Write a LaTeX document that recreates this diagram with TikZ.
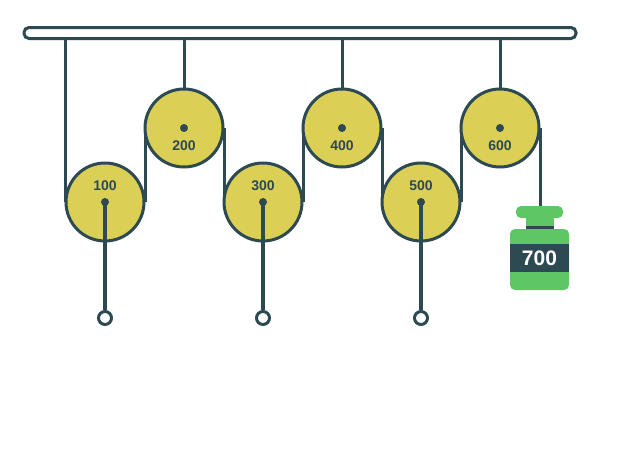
\documentclass[tikz,border=0pt]{standalone}
\usepackage{fontspec}
\setmainfont{Liberation Sans}
\begin{document}
\definecolor{dk}{HTML}{2D4A53}
\definecolor{yl}{HTML}{DCCF55}
\definecolor{gr}{HTML}{5EC764}
\begin{tikzpicture}[x=1pt,y=-1pt,
  rope/.style={draw=dk,line width=3pt},
  rod/.style={draw=dk,line width=4pt},
  pul/.style={circle,draw=dk,fill=yl,line width=3pt,minimum size=78pt,inner sep=0pt},
  lab/.style={text=dk,font=\bfseries\fontsize{14}{14}\selectfont},
  ring/.style={circle,draw=dk,fill=white,line width=3pt,minimum size=13pt,inner sep=0pt},
  dot/.style={circle,fill=dk,minimum size=8pt,inner sep=0pt}]
\useasboundingbox (0,0) rectangle (620,463);
% ropes
\coordinate (b0) at (65,33); \coordinate (b2) at (184,33);
\coordinate (b4) at (342,33); \coordinate (b6) at (500,33);
\draw[rope] (b0) -- (65,202);
\draw[rope] (145,202) -- (145,128);
\draw[rope] (224,128) -- (224,202);
\draw[rope] (303,202) -- (303,128);
\draw[rope] (382,128) -- (382,202);
\draw[rope] (461,202) -- (461,128);
\draw[rope] (540,128) -- (540,208);
\draw[rope] (b2) -- (184,128);
\draw[rope] (b4) -- (342,128);
\draw[rope] (b6) -- (500,128);
% bar
\draw[draw=dk,fill=white,line width=3pt,rounded corners=5pt] (24,27.5) rectangle (576,38.5);
% pulleys
\foreach \n/\x/\y/\t/\ly in {p1/105/202/100/186,p2/184/128/200/146,p3/263/202/300/186,p4/342/128/400/146,p5/421/202/500/186,p6/500/128/600/146}{
  \node[pul] (\n) at (\x,\y) {};
  \node[lab] (\n l) at (\x,\ly) {\t};
}
\foreach \n/\x in {p1/105,p3/263,p5/421}{
  \node[ring] (\n r) at (\x,318) {};
  \draw[rod] (\n.center) -- (\n r.north);
}
\foreach \n in {p1,p2,p3,p4,p5,p6}{\node[dot] at (\n.center) {};}
% weight
\fill[gr,rounded corners=5pt] (516,206) rectangle (563,218);
\fill[gr] (526,217) rectangle (554,231);
\fill[dk] (526,226) rectangle (554,228.5);
\fill[gr,rounded corners=5pt] (510,229) rectangle (569,290);
\fill[dk] (510,244) rectangle (569,272);
\node[text=white,font=\bfseries\fontsize{21}{21}\selectfont] (w) at (539.5,258.5) {700};
\end{tikzpicture}
\end{document}
